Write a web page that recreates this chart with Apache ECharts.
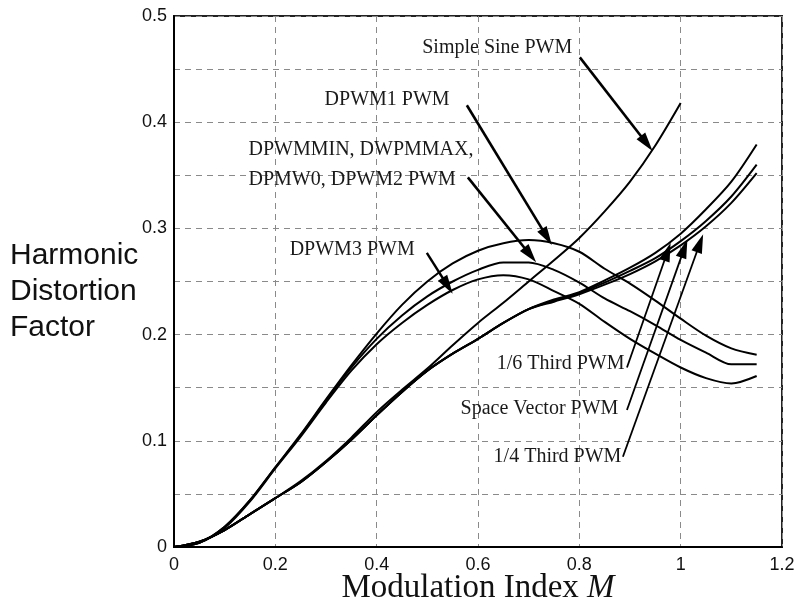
<!DOCTYPE html>
<html>
<head>
<meta charset="utf-8">
<script src="https://cdn.jsdelivr.net/npm/echarts@6/dist/echarts.min.js"></script>
<style>
  html, body { margin: 0; padding: 0; background: #fff; }
  #chart { width: 794px; height: 603px; }
</style>
</head>
<body>
<div id="chart"></div>
<script>
// ---- data ----
const mIndex = [0, 0.05, 0.1, 0.15, 0.2, 0.25, 0.3, 0.35, 0.4, 0.45, 0.5, 0.55,
                0.6, 0.65, 0.7, 0.75, 0.8, 0.85, 0.9, 0.95, 1.0, 1.05, 1.1, 1.15];

const simpleSine = [0, 0.005, 0.016, 0.031, 0.046, 0.062, 0.081, 0.103, 0.127, 0.148, 0.168,
                    0.190, 0.211, 0.230, 0.250, 0.270, 0.291, 0.316, 0.344, 0.378, 0.418];

const dpwm1 = [0, 0.004, 0.019, 0.044, 0.075, 0.106, 0.139, 0.171, 0.201, 0.228, 0.250, 0.267,
               0.279, 0.286, 0.289, 0.286, 0.278, 0.262, 0.248, 0.232, 0.215, 0.199, 0.187, 0.181];

const dpwmMin = [0, 0.004, 0.019, 0.044, 0.075, 0.105, 0.138, 0.169, 0.196, 0.218, 0.236, 0.250,
                 0.261, 0.268, 0.268, 0.261, 0.249, 0.234, 0.222, 0.209, 0.195, 0.183, 0.172, 0.172];

const dpwm3 = [0, 0.004, 0.018, 0.043, 0.074, 0.104, 0.136, 0.166, 0.191, 0.211, 0.228, 0.242,
               0.252, 0.256, 0.252, 0.241, 0.229, 0.212, 0.196, 0.182, 0.169, 0.159, 0.154, 0.161];

const thirdSixth = [0, 0.005, 0.016, 0.031, 0.046, 0.061, 0.080, 0.101, 0.124, 0.146, 0.166, 0.182,
                    0.196, 0.211, 0.224, 0.233, 0.240, 0.251, 0.263, 0.277, 0.295, 0.318, 0.344, 0.379];

const spaceVector = [0, 0.005, 0.016, 0.031, 0.046, 0.061, 0.080, 0.101, 0.124, 0.146, 0.166, 0.182,
                     0.196, 0.211, 0.224, 0.232, 0.239, 0.249, 0.260, 0.272, 0.288, 0.307, 0.330, 0.360];

const thirdQuarter = [0, 0.005, 0.016, 0.031, 0.046, 0.061, 0.080, 0.101, 0.124, 0.146, 0.166, 0.182,
                      0.196, 0.211, 0.224, 0.231, 0.238, 0.247, 0.257, 0.269, 0.284, 0.302, 0.324, 0.352];

const xTicks = { min: 0, max: 1.2, interval: 0.2 };
const yTicks = { min: 0, max: 0.5, interval: 0.05 };

// annotation arrows (data coordinates): [from, to]
const arrowFrom = [[0.801, 0.461], [0.578, 0.416], [0.580, 0.348], [0.499, 0.277],
                   [0.894, 0.169], [0.894, 0.129], [0.886, 0.085]];
const arrowTo   = [[0.933, 0.380], [0.736, 0.292], [0.703, 0.275], [0.540, 0.246],
                   [0.974, 0.278], [1.007, 0.281], [1.038, 0.286]];
const arrowWidth = [2.6, 2.6, 2.6, 2.4, 1.8, 1.8, 1.8];

// annotation texts
const labelTexts = ['Simple Sine PWM', 'DPWM1 PWM', 'DPWMMIN, DWPMMAX,\nDPMW0, DPWM2 PWM',
                    'DPWM3 PWM', '1/6 Third PWM', 'Space Vector PWM', '1/4 Third PWM'];
const labelAt = [[0.787, 0.470], [0.545, 0.421], [0.146, 0.360], [0.476, 0.280],
                 [0.890, 0.173], [0.878, 0.130], [0.884, 0.085]];
const labelSide = ['left', 'left', 'right', 'left', 'left', 'left', 'left'];

// ---- chart ----
const toPairs = arr => arr.map((v, i) => [mIndex[i], v]);

const lineStyleBase = { color: '#000', width: 2 };

function curve(name, arr, extra) {
  return Object.assign({
    name: name,
    type: 'line',
    data: toPairs(arr),
    smooth: 0.3,
    showSymbol: false,
    symbol: 'none',
    lineStyle: lineStyleBase,
    itemStyle: { color: '#000' },
    silent: true,
    animation: false,
    z: 3
  }, extra || {});
}

const markLineData = arrowFrom.map((f, i) => [
  { coord: f, symbol: 'none', lineStyle: { width: arrowWidth[i], color: '#000', type: 'solid' } },
  { coord: arrowTo[i], symbol: 'triangle', symbolSize: [11, 19] }
]);

const markPointData = labelAt.map((p, i) => ({
  coord: p,
  label: {
    show: true,
    formatter: labelTexts[i],
    position: labelSide[i],
    distance: 0,
    align: labelSide[i] === 'left' ? 'right' : 'left',
    verticalAlign: 'middle',
    color: '#1a1a1a',
    fontFamily: '"Liberation Serif", "Times New Roman", serif',
    fontSize: 20,
    lineHeight: 30
  }
}));

const option = {
  backgroundColor: '#fff',
  animation: false,
  grid: {
    left: 174, right: 12, top: 16, bottom: 56,
    containLabel: false,
    outerBoundsMode: 'none',
    show: true, borderColor: '#222', borderWidth: 2, backgroundColor: 'transparent'
  },
  xAxis: {
    type: 'value',
    min: xTicks.min, max: xTicks.max, interval: xTicks.interval,
    name: '{a|Modulation Index }{b|M}',
    nameLocation: 'middle',
    nameGap: 25,
    nameMoveOverlap: false,
    nameTextStyle: {
      rich: {
        a: { fontFamily: '"Liberation Serif", "Times New Roman", serif', fontSize: 33, color: '#111' },
        b: { fontFamily: '"Liberation Serif", "Times New Roman", serif', fontSize: 33, fontStyle: 'italic', color: '#111' }
      }
    },
    axisLine: { show: true, onZero: false, lineStyle: { color: '#000', width: 2 } },
    axisTick: { show: false },
    axisLabel: {
      margin: 9,
      color: '#111',
      fontFamily: '"Liberation Sans", Arial, sans-serif',
      fontSize: 18
    },
    splitLine: { show: true, lineStyle: { color: '#8a8a8a', width: 1, type: [6, 5] } }
  },
  yAxis: {
    type: 'value',
    min: yTicks.min, max: yTicks.max, interval: yTicks.interval,
    axisLine: { show: true, onZero: false, lineStyle: { color: '#000', width: 2 } },
    axisTick: { show: false },
    axisLabel: {
      margin: 7,
      color: '#111',
      fontFamily: '"Liberation Sans", Arial, sans-serif',
      fontSize: 18,
      formatter: function (v) {
        const k = Math.round(v * 100);
        if (k % 10 !== 0) return '';
        return String(k / 100);
      }
    },
    splitLine: { show: true, lineStyle: { color: '#8a8a8a', width: 1, type: [6, 5] } }
  },
  graphic: [{
    type: 'text',
    left: 10,
    top: 238,
    style: {
      text: 'Harmonic\nDistortion\nFactor',
      font: '30px "Liberation Sans", Arial, sans-serif',
      fill: '#111',
      lineHeight: 36,
      textAlign: 'left'
    }
  }],
  series: [
    curve('Simple Sine PWM', simpleSine, {
      markLine: {
        silent: true,
        animation: false,
        symbol: ['none', 'triangle'],
        symbolSize: [11, 19],
        label: { show: false },
        lineStyle: { color: '#000', type: 'solid', width: 2 },
        itemStyle: { color: '#000' },
        emphasis: { disabled: true },
        data: markLineData
      },
      markPoint: {
        silent: true,
        animation: false,
        symbol: 'rect',
        symbolSize: 1,
        itemStyle: { color: 'rgba(0,0,0,0)' },
        data: markPointData
      }
    }),
    curve('DPWM1 PWM', dpwm1),
    curve('DPWMMIN PWM', dpwmMin),
    curve('DPWM3 PWM', dpwm3),
    curve('1/6 Third PWM', thirdSixth),
    curve('Space Vector PWM', spaceVector),
    curve('1/4 Third PWM', thirdQuarter)
  ]
};

const chart = echarts.init(document.getElementById('chart'), null, { renderer: 'canvas' });
chart.setOption(option);
</script>
</body>
</html>
